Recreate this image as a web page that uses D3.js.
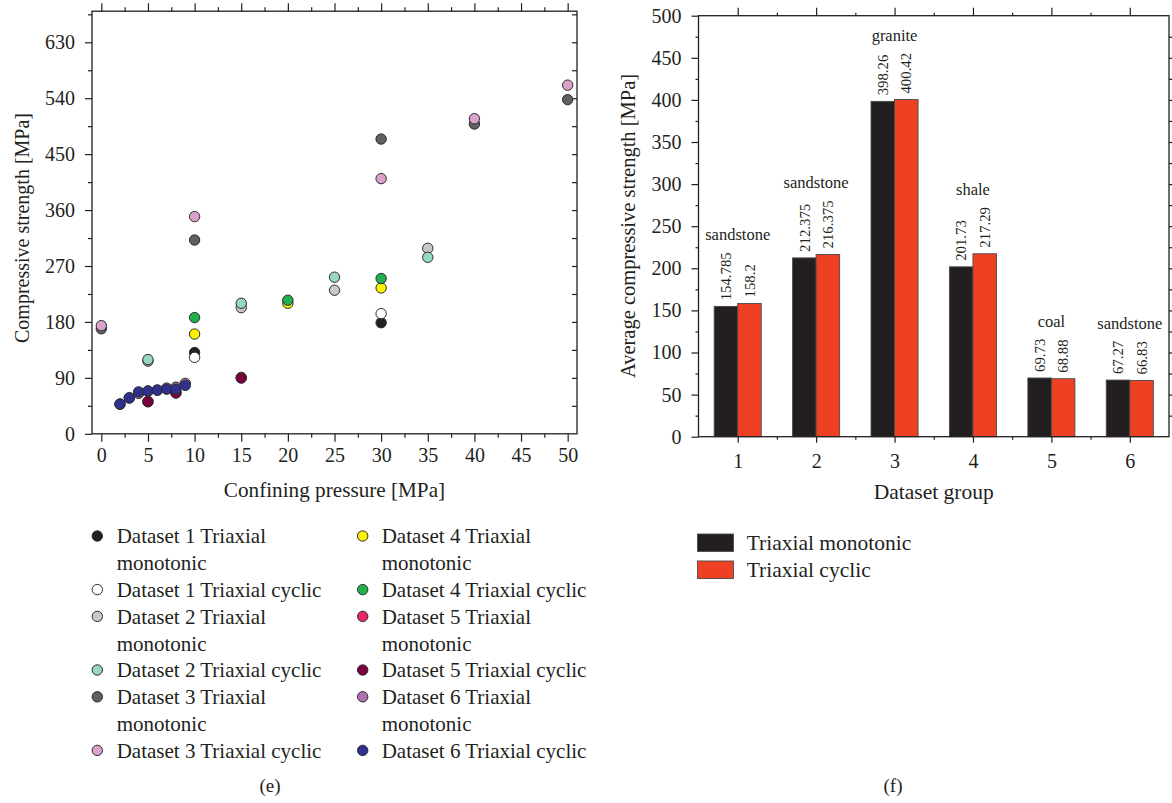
<!DOCTYPE html>
<html>
<head>
<meta charset="utf-8">
<script src="https://cdn.jsdelivr.net/npm/d3@7"></script>
<style>
  body { margin: 0; background: #fff; }
  svg { display: block; font-family: "Liberation Serif", "Times New Roman", serif; }
  .axis path { display: none; }
  .axis line { stroke: #231f20; stroke-width: 1.2; }
  .axis text { fill: #231f20; font-family: "Liberation Serif", "Times New Roman", serif; }
</style>
</head>
<body>
<svg id="chart" width="1172" height="803"></svg>
<script>
// ---- Panel (e): compressive strength vs confining pressure, [pressure, strength] in MPa ----
const d1Monotonic = [[10, 130.8], [30, 178.77]];
const d1Cyclic    = [[10, 123], [30, 193.4]];
const d2Monotonic = [[5, 117], [15, 203], [25, 231], [35, 298.5]];
const d2Cyclic    = [[5, 119.5], [15, 210], [25, 252], [35, 284]];
const d3Monotonic = [[0, 169], [10, 311.8], [30, 474.3], [40, 498.5], [50, 537.7]];
const d3Cyclic    = [[0, 174], [10, 349.5], [30, 410.6], [40, 507], [50, 561]];
const d4Monotonic = [[10, 160.5], [20, 210], [30, 234.69]];
const d4Cyclic    = [[10, 187], [20, 215], [30, 249.87]];
const d5Monotonic = [[5, 52], [8, 66.5], [15, 90.69]];
const d5Cyclic    = [[5, 51.5], [8, 65.5], [15, 89.64]];
const d6Monotonic = [[2, 47.5], [3, 57.5], [4, 65], [5, 68.5], [6, 70], [7, 73.5], [8, 75], [9, 81.16]];
const d6Cyclic    = [[2, 48.04], [3, 58], [4, 67.5], [5, 69], [6, 70.5], [7, 71.8], [8, 71.8], [9, 78]];

const seriesLabels = [
  ["Dataset 1 Triaxial", "monotonic"], ["Dataset 1 Triaxial cyclic"],
  ["Dataset 2 Triaxial", "monotonic"], ["Dataset 2 Triaxial cyclic"],
  ["Dataset 3 Triaxial", "monotonic"], ["Dataset 3 Triaxial cyclic"],
  ["Dataset 4 Triaxial", "monotonic"], ["Dataset 4 Triaxial cyclic"],
  ["Dataset 5 Triaxial", "monotonic"], ["Dataset 5 Triaxial cyclic"],
  ["Dataset 6 Triaxial", "monotonic"], ["Dataset 6 Triaxial cyclic"]
];
const seriesColors = ["#231f20", "#ffffff", "#c8c8c8", "#98d6c6", "#606060", "#d9a2cc",
                      "#fff200", "#22b04e", "#e8286a", "#7a0040", "#b271b2", "#30308f"];

const pressureTicks = [0, 5, 10, 15, 20, 25, 30, 35, 40, 45, 50];
const strengthTicks = [0, 90, 180, 270, 360, 450, 540, 630];

// ---- Panel (f): average compressive strength per dataset group ----
const groups = [1, 2, 3, 4, 5, 6];
const rockTypes = ["sandstone", "sandstone", "granite", "shale", "coal", "sandstone"];
const avgMonotonic = [154.785, 212.375, 398.26, 201.73, 69.73, 67.27];
const avgCyclic = [158.2, 216.375, 400.42, 217.29, 68.88, 66.83];
const avgTicks = [0, 50, 100, 150, 200, 250, 300, 350, 400, 450, 500];
const barSeriesNames = ["Triaxial monotonic", "Triaxial cyclic"];
const barColors = ["#231f20", "#ee4124"];

const series = [d1Monotonic, d1Cyclic, d2Monotonic, d2Cyclic, d3Monotonic, d3Cyclic,
                d4Monotonic, d4Cyclic, d5Monotonic, d5Cyclic, d6Monotonic, d6Cyclic];

const svg = d3.select("#chart");
const INK = "#231f20";
const FONT = 20;
const LEGEND_FONT = 21;

// ================= Scatter panel =================
const sx = d3.scaleLinear().domain([-1, 51]).range([92, 577]);
const sy = d3.scaleLinear().domain([0, 680]).range([433.8, 11.2]);
const sc = svg.append("g");

const pMinor = d3.range(0, 51, 2.5).filter(v => v % 5 !== 0);
const sMinor = d3.range(45, 680, 90);
const sRight = d3.range(45, 680, 45);

// bottom axis
sc.append("g").attr("class", "axis").attr("transform", `translate(0,${sy.range()[0]})`)
  .call(d3.axisBottom(sx).tickValues(pressureTicks).tickSize(8).tickPadding(6).tickFormat(d3.format("d")))
  .selectAll("text").style("font-size", FONT + "px");
sc.append("g").attr("class", "axis").attr("transform", `translate(0,${sy.range()[0]})`)
  .call(d3.axisBottom(sx).tickValues(pMinor).tickSize(4).tickFormat(""));
// top axis
sc.append("g").attr("class", "axis").attr("transform", `translate(0,${sy.range()[1]})`)
  .call(d3.axisTop(sx).tickValues(pressureTicks).tickSize(8).tickFormat(""));
sc.append("g").attr("class", "axis").attr("transform", `translate(0,${sy.range()[1]})`)
  .call(d3.axisTop(sx).tickValues(pMinor).tickSize(4).tickFormat(""));
// left axis
sc.append("g").attr("class", "axis").attr("transform", `translate(${sx.range()[0]},0)`)
  .call(d3.axisLeft(sy).tickValues(strengthTicks).tickSize(7).tickPadding(10).tickFormat(d3.format("d")))
  .selectAll("text").style("font-size", FONT + "px");
sc.append("g").attr("class", "axis").attr("transform", `translate(${sx.range()[0]},0)`)
  .call(d3.axisLeft(sy).tickValues(sMinor).tickSize(4).tickFormat(""));
// right axis, ticks pointing inward
sc.append("g").attr("class", "axis").attr("transform", `translate(${sx.range()[1]},0)`)
  .call(d3.axisLeft(sy).tickValues(sRight).tickSize(5).tickFormat(""));

// frame
sc.append("rect")
  .attr("x", sx.range()[0]).attr("y", sy.range()[1])
  .attr("width", sx.range()[1] - sx.range()[0]).attr("height", sy.range()[0] - sy.range()[1])
  .attr("fill", "none").attr("stroke", INK).attr("stroke-width", 1.3);

// points
series.forEach((pts, i) => {
  sc.append("g").selectAll("circle").data(pts).join("circle")
    .attr("cx", d => sx(d[0])).attr("cy", d => sy(d[1])).attr("r", 5.2)
    .attr("fill", seriesColors[i]).attr("stroke", "#2b2b2b").attr("stroke-width", 1);
});

// axis titles
sc.append("text").attr("x", (sx.range()[0] + sx.range()[1]) / 2).attr("y", 497)
  .attr("text-anchor", "middle").attr("fill", INK).style("font-size", "21.2px")
  .text("Confining pressure [MPa]");
sc.append("text").attr("transform", `translate(29,228) rotate(-90)`)
  .attr("text-anchor", "middle").attr("fill", INK).style("font-size", FONT + "px")
  .text("Compressive strength [MPa]");

// legend, two columns of six entries
const legRow0 = 536, legRowH = 26.8;
[0, 1].forEach(col => {
  let line = 0;
  const mx = col === 0 ? 97.3 : 362.7;
  const tx = col === 0 ? 116.7 : 381.7;
  for (let k = 0; k < 6; k++) {
    const i = col * 6 + k;
    const y0 = legRow0 + line * legRowH;
    sc.append("circle").attr("cx", mx).attr("cy", y0).attr("r", 5.2)
      .attr("fill", seriesColors[i]).attr("stroke", "#2b2b2b").attr("stroke-width", 1);
    seriesLabels[i].forEach((t, j) => {
      sc.append("text").attr("x", tx).attr("y", y0 + j * legRowH).attr("dy", "0.35em")
        .attr("fill", INK).style("font-size", LEGEND_FONT + "px").text(t);
    });
    line += seriesLabels[i].length;
  }
});

svg.append("text").attr("x", 270).attr("y", 792).attr("text-anchor", "middle")
  .attr("fill", INK).style("font-size", "19px").text("(e)");

// ================= Bar panel =================
const bx = d3.scaleLinear().domain([0.5, 6.5]).range([698.5, 1169]);
const by = d3.scaleLinear().domain([0, 500]).range([436.7, 15.7]);
const bc = svg.append("g");
const barW = 0.3;

const gMinor = d3.range(1.5, 6.5, 1);
const yMinor = d3.range(25, 500, 50);
const yRight = d3.range(25, 500, 25);

bc.append("g").attr("class", "axis").attr("transform", `translate(0,${by.range()[0]})`)
  .call(d3.axisBottom(bx).tickValues(groups).tickSize(6).tickPadding(11).tickFormat(d3.format("d")))
  .selectAll("text").style("font-size", FONT + "px");
bc.append("g").attr("class", "axis").attr("transform", `translate(0,${by.range()[0]})`)
  .call(d3.axisBottom(bx).tickValues(gMinor).tickSize(3).tickFormat(""));
bc.append("g").attr("class", "axis").attr("transform", `translate(0,${by.range()[1]})`)
  .call(d3.axisTop(bx).tickValues(groups).tickSize(8).tickFormat(""));
bc.append("g").attr("class", "axis").attr("transform", `translate(0,${by.range()[1]})`)
  .call(d3.axisTop(bx).tickValues(gMinor).tickSize(3).tickFormat(""));
bc.append("g").attr("class", "axis").attr("transform", `translate(${bx.range()[0]},0)`)
  .call(d3.axisLeft(by).tickValues(avgTicks).tickSize(7).tickPadding(10).tickFormat(d3.format("d")))
  .selectAll("text").style("font-size", FONT + "px");
bc.append("g").attr("class", "axis").attr("transform", `translate(${bx.range()[0]},0)`)
  .call(d3.axisLeft(by).tickValues(yMinor).tickSize(3).tickFormat(""));
bc.append("g").attr("class", "axis").attr("transform", `translate(${bx.range()[1]},0)`)
  .call(d3.axisRight(by).tickValues(yRight).tickSize(3).tickFormat(""));

// bars: monotonic left of the group centre, cyclic right of it
const barSets = [avgMonotonic, avgCyclic];
barSets.forEach((vals, s) => {
  bc.append("g").selectAll("rect").data(vals).join("rect")
    .attr("x", (d, i) => bx(groups[i] + (s === 0 ? -barW : 0)))
    .attr("y", d => by(d))
    .attr("width", bx(barW) - bx(0))
    .attr("height", d => by(0) - by(d))
    .attr("fill", barColors[s]).attr("stroke", "#4a4a4a").attr("stroke-width", 0.9);
});

// rotated value labels, then rock-type label above each group
const labelGap = 6, typeGap = 12;
groups.forEach((g, i) => {
  let topMost = Infinity;
  barSets.forEach((vals, s) => {
    const cxBar = bx(g + (s === 0 ? -barW / 2 : barW / 2));
    const y0 = by(vals[i]) - labelGap;
    const t = bc.append("text")
      .attr("transform", `translate(${cxBar},${y0}) rotate(-90)`)
      .attr("dy", "0.35em").attr("fill", INK).style("font-size", "14.8px")
      .text(String(vals[i]));
    const top = y0 - t.node().getComputedTextLength();
    topMost = Math.min(topMost, top);
  });
  bc.append("text").attr("x", bx(g)).attr("y", topMost - typeGap)
    .attr("text-anchor", "middle").attr("fill", INK).style("font-size", "16.5px")
    .text(rockTypes[i]);
});

// frame
bc.append("rect")
  .attr("x", bx.range()[0]).attr("y", by.range()[1])
  .attr("width", bx.range()[1] - bx.range()[0]).attr("height", by.range()[0] - by.range()[1])
  .attr("fill", "none").attr("stroke", INK).attr("stroke-width", 1.3);

bc.append("text").attr("x", (bx.range()[0] + bx.range()[1]) / 2).attr("y", 499)
  .attr("text-anchor", "middle").attr("fill", INK).style("font-size", "21.5px")
  .text("Dataset group");
bc.append("text").attr("transform", `translate(635,226) rotate(-90)`)
  .attr("text-anchor", "middle").attr("fill", INK).style("font-size", "20.5px")
  .text("Average compressive strength [MPa]");

// bar legend
barSeriesNames.forEach((name, s) => {
  const y0 = 534 + s * 27;
  bc.append("rect").attr("x", 697.5).attr("y", y0).attr("width", 36).attr("height", 17.5)
    .attr("fill", barColors[s]).attr("stroke", "#4a4a4a").attr("stroke-width", 0.9);
  bc.append("text").attr("x", 746.7).attr("y", y0 + 8.5).attr("dy", "0.35em")
    .attr("fill", INK).style("font-size", "21.5px").text(name);
});

svg.append("text").attr("x", 893).attr("y", 792).attr("text-anchor", "middle")
  .attr("fill", INK).style("font-size", "19px").text("(f)");
</script>
</body>
</html>
